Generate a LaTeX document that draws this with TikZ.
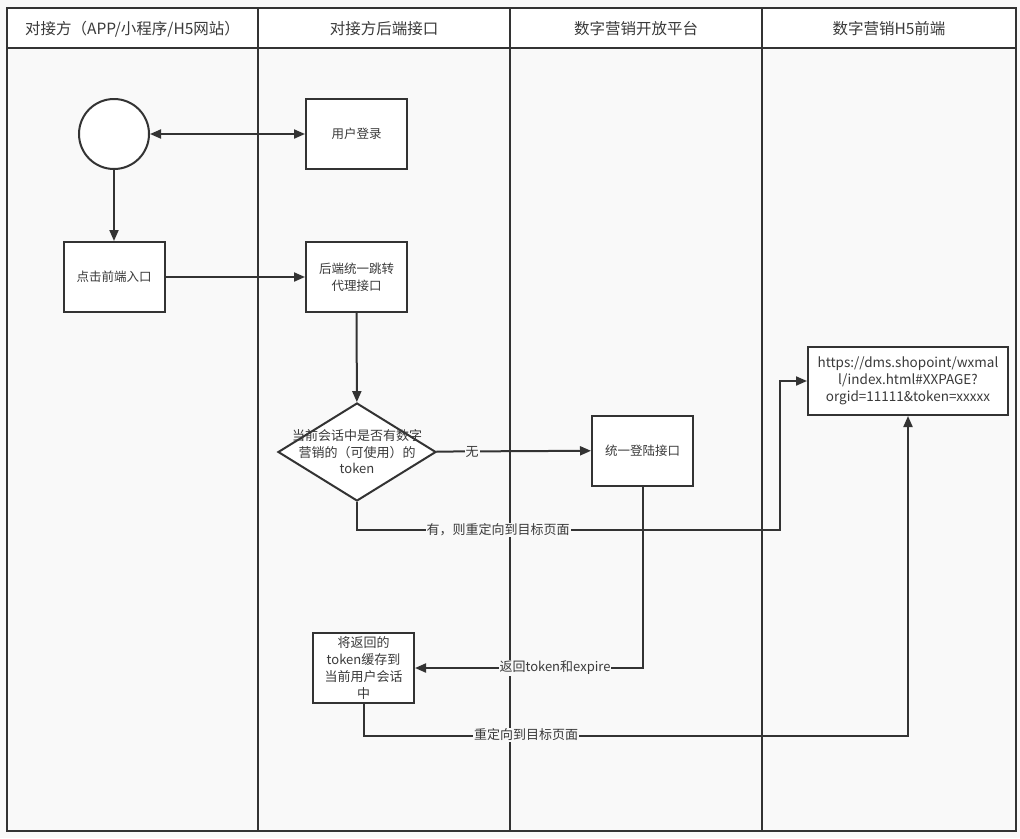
\documentclass[tikz,border=0pt]{standalone}
\usepackage{fontspec}
\setmainfont{Noto Sans CJK SC}
\usetikzlibrary{arrows.meta,shapes.geometric}
\definecolor{ln}{HTML}{333333}
\definecolor{tx}{HTML}{3A3A3A}
\definecolor{bg}{HTML}{F9F9F9}
\tikzset{
  boxnode/.style={draw=ln, line width=2pt, fill=white, minimum width=101pt, minimum height=70pt, inner sep=1pt, align=center, text=tx, font=\fontsize{12.5}{17}\selectfont},
  headnode/.style={text=tx, font=\fontsize{15.5}{18}\selectfont},
  conn/.style={draw=ln, line width=2pt, -{Triangle[length=11pt,width=9pt]}},
  lbl/.style={fill=bg, inner sep=1pt, text=tx, font=\fontsize{13}{15}\selectfont},
}
\begin{document}
\begin{tikzpicture}[x=1pt,y=-1pt]
\useasboundingbox (0,0) rectangle (1020,838);
\fill[bg] (0,0) rectangle (1020,838);
% lanes
\fill[white] (7,8) rectangle (1016,48);
\draw[ln, line width=2pt] (7,8) rectangle (1016,831);
\draw[ln, line width=2pt] (7,48) -- (1016,48);
\foreach \x in {258,510,762} \draw[ln, line width=2pt] (\x,8) -- (\x,831);
\node[headnode] (h1) at (132.5,29) {对接方（APP/小程序/H5网站）};
\node[headnode] (h2) at (384,29) {对接方后端接口};
\node[headnode] (h3) at (636,29) {数字营销开放平台};
\node[headnode] (h4) at (889,29) {数字营销H5前端};
% nodes
\node[circle, draw=ln, line width=2pt, fill=white, minimum size=70pt, inner sep=0] (start) at (114,134) {};
\node[boxnode] (login) at (356.5,134) {用户登录};
\node[boxnode] (click) at (114,277) {点击前端入口};
\node[boxnode] (proxy) at (356.5,277) {后端统一跳转\\代理接口};
\node[diamond, draw=ln, line width=2pt, fill=white, minimum width=158pt, minimum height=98pt, inner sep=0] (dec) at (357,452) {};
\node[align=center, text=tx, font=\fontsize{13}{16.5}\selectfont] (dectext) at (357,452) {当前会话中是否有数字\\营销的（可使用）的\\token};
\node[boxnode] (ulogin) at (642.5,450.5) {统一登陆接口};
\node[boxnode, minimum width=200pt, minimum height=68pt, font=\fontsize{13.5}{17}\selectfont] (url) at (908,381) {https://dms.shopoint/wxmal\\l/index.html\#XXPAGE?\\orgid=11111\&token=xxxxx};
\node[boxnode, font=\fontsize{13}{17}\selectfont] (cache) at (363.5,668) {将返回的\\token缓存到\\当前用户会话\\中};
\coordinate (c1) at (780,530);
% connectors
\draw[conn, {Triangle[length=11pt,width=9pt]}-{Triangle[length=11pt,width=9pt]}] (start) -- (login);
\draw[conn] (start) -- (click);
\draw[conn] (click) -- (proxy);
\draw[conn] (proxy) -- (dec);
\draw[conn] (dec) -- (ulogin);
\draw[conn] (dec.south) |- (c1) |- (url.west);
\draw[conn] (ulogin.south) |- (cache.east);
\draw[conn] (cache.south) -- ++(0,32) -| (url.south);
% labels
\node[lbl] (l1) at (472,452) {无};
\node[lbl] (l2) at (498,530) {有，则重定向到目标页面};
\node[lbl] (l3) at (555,668) {返回token和expire};
\node[lbl] (l4) at (526,735) {重定向到目标页面};
\end{tikzpicture}
\end{document}
